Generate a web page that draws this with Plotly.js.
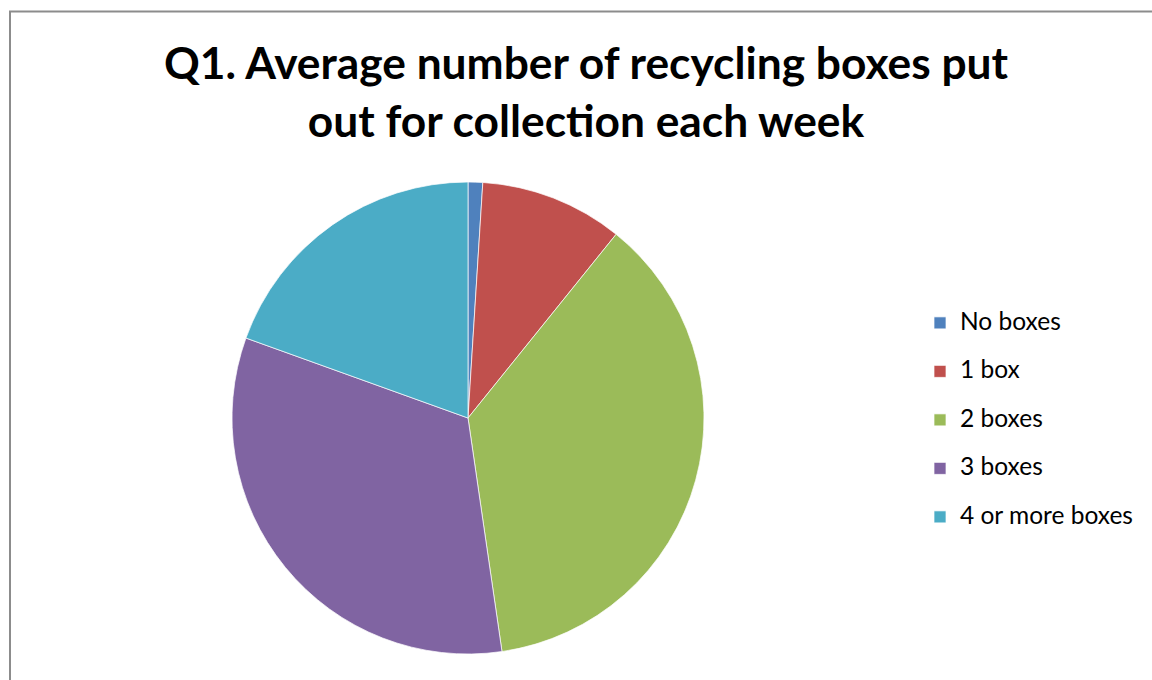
<!DOCTYPE html>
<html>
<head>
<meta charset="utf-8">
<script src="https://cdn.plot.ly/plotly-3.0.1.min.js"></script>
<style>html,body{margin:0;padding:0;background:#fff;}#chart{width:1152px;height:680px;}</style>
</head>
<body>
<div id="chart"></div>
<script>
const titleText = "Q1. Average number of recycling boxes put<br>out for collection each week";
const categories = ["No boxes", "1 box", "2 boxes", "3 boxes", "4 or more boxes"];
const percentages = [1.0, 9.8, 36.9, 32.8, 19.5];
const sliceColors = ["#4F81BD", "#C0504D", "#9BBB59", "#8064A2", "#4BACC6"];

const W = 1152, H = 680;
const legendLabels = categories.map(c => "<span style='font-size:24.5px'>" + c + "</span><br> ");

const trace = {
  type: "pie",
  labels: legendLabels,
  values: percentages,
  sort: false,
  direction: "clockwise",
  rotation: 0,
  textinfo: "none",
  hoverinfo: "skip",
  marker: { colors: sliceColors, line: { color: "rgba(255,255,255,0.7)", width: 1 } },
  domain: { x: [232 / W, 704 / W], y: [1 - 655 / H, 1 - 181 / H] }
};

const layout = {
  width: W, height: H,
  margin: { l: 0, r: 0, t: 0, b: 0 },
  paper_bgcolor: "#fff",
  font: { family: "Lato, 'Open Sans', sans-serif", color: "#000" },
  title: {
    text: titleText,
    font: { family: "Lato, 'Open Sans', sans-serif", size: 44.3, weight: 700, color: "#000" },
    x: 586 / W, xanchor: "center", xref: "container",
    y: 1 - 79 / H, yanchor: "top", yref: "container"
  },
  showlegend: true,
  legend: {
    x: 920 / W, xanchor: "left",
    y: 1 - 305 / H, yanchor: "top",
    valign: "top",
    font: { size: 17.5, color: "#000", family: "Lato, 'Open Sans', sans-serif" },
    bgcolor: "rgba(0,0,0,0)",
    borderwidth: 0
  },
  shapes: [{
    type: "rect", xref: "paper", yref: "paper",
    x0: 10 / W, x1: 1.05, y0: -0.05, y1: 1 - 11.5 / H,
    line: { color: "#8c8c8c", width: 2 }, fillcolor: "rgba(0,0,0,0)", layer: "below"
  }]
};

Plotly.newPlot("chart", [trace], layout, { displayModeBar: false, staticPlot: true });
</script>
</body>
</html>
